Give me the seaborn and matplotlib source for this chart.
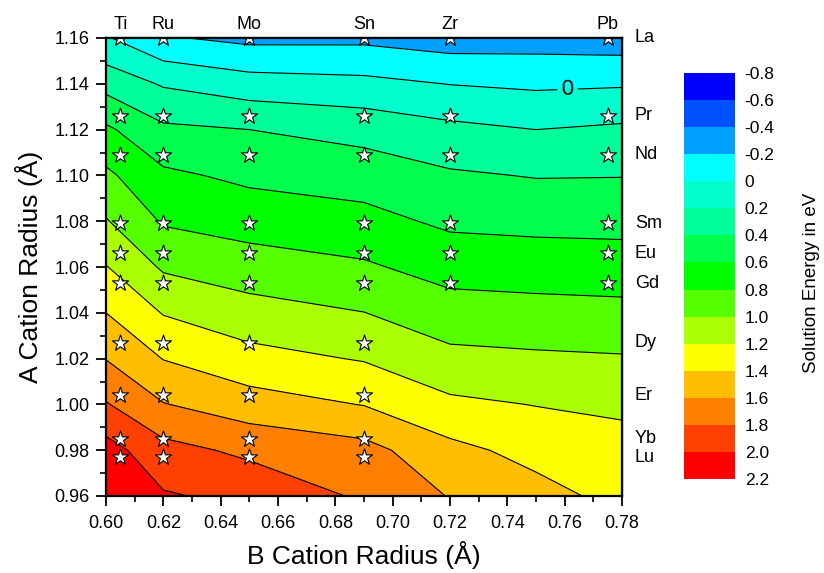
import numpy as np
import pandas as pd
import matplotlib
matplotlib.use("Agg")
import matplotlib.pyplot as plt
from matplotlib.ticker import MultipleLocator, NullFormatter
import seaborn as sns

# B-site and A-site cations with their ionic radii (Å)
b_elements = ["Ti", "Ru", "Mo", "Sn", "Zr", "Pb"]
b_radius = [0.605, 0.62, 0.65, 0.69, 0.72, 0.775]
a_elements = ["La", "Pr", "Nd", "Sm", "Eu", "Gd", "Dy", "Er", "Yb", "Lu"]
a_radius = [1.16, 1.126, 1.109, 1.079, 1.066, 1.053, 1.027, 1.004, 0.985, 0.977]
# number of B cations (in the order above) computed for each A cation
b_computed = [6, 6, 6, 6, 6, 6, 4, 4, 4, 4]

# solution energy surface (eV) on a B radius x A radius mesh
grid_b = [0.60, 0.62, 0.65, 0.69, 0.72, 0.75, 0.78]
grid_a = [0.96, 0.98, 1.00, 1.02, 1.04, 1.06, 1.08, 1.10, 1.12, 1.14, 1.16]
energy = [
    [2.18, 2.02, 1.95, 1.77, 1.59, 1.47, 1.34],
    [2.08, 1.867, 1.756, 1.668, 1.455, 1.336, 1.29],
    [1.815, 1.609, 1.488, 1.393, 1.241, 1.194, 1.153],
    [1.594, 1.394, 1.266, 1.186, 1.052, 1.031, 1.016],
    [1.40, 1.189, 1.079, 1.003, 0.887, 0.869, 0.856],
    [1.209, 0.973, 0.892, 0.827, 0.722, 0.705, 0.693],
    [1.014, 0.779, 0.716, 0.664, 0.562, 0.544, 0.538],
    [0.839, 0.638, 0.557, 0.508, 0.425, 0.39, 0.394],
    [0.635, 0.437, 0.40, 0.329, 0.25, 0.20, 0.234],
    [0.33, 0.18, 0.085, 0.054, -0.005, -0.034, -0.02],
    [0.02, -0.18, -0.25, -0.245, -0.30, -0.29, -0.31],
]

levels = [-0.8, -0.6, -0.4, -0.2, 0.0, 0.2, 0.4, 0.6, 0.8, 1.0,
          1.2, 1.4, 1.6, 1.8, 2.0, 2.2]
level_labels = ["-0.8", "-0.6", "-0.4", "-0.2", "0", "0.2", "0.4", "0.6",
                "0.8", "1.0", "1.2", "1.4", "1.6", "1.8", "2.0", "2.2"]
level_colors = ["#0000FF", "#0050FF", "#00A0FF", "#00FFFF", "#00FFCC",
                "#00FF99", "#00FF4C", "#00FF00", "#55FF00", "#AAFF00",
                "#FFFF00", "#FFBF00", "#FF8000", "#FF4000", "#FF0000"]

sns.set_theme(style="ticks")
plt.rcParams["font.family"] = ["Liberation Sans", "DejaVu Sans"]
plt.rcParams.update({
    "text.color": "black",
    "axes.labelcolor": "black",
    "xtick.color": "black",
    "ytick.color": "black",
    "axes.edgecolor": "black",
    "contour.negative_linestyle": "solid",
})

fig = plt.figure(figsize=(8.24, 5.73), dpi=100)
W, H = 824, 573
ax = fig.add_axes([106 / W, 77 / H, 516 / W, 458 / H])

Z = np.array(energy)
cf = ax.contourf(grid_b, grid_a, Z, levels=levels, colors=level_colors)
line_levels = [lv for lv in levels if lv != 0.0]
ax.contour(grid_b, grid_a, Z, levels=line_levels, colors="black",
           linewidths=0.8, linestyles="solid")
# the zero line carries a label
cs0 = ax.contour(grid_b, grid_a, Z, levels=[0.0], colors="black",
                 linewidths=0.8, linestyles="solid")
ax.clabel(cs0, manual=[(0.761, 1.137)], fmt=lambda v: "0", fontsize=16,
          inline=True, inline_spacing=4)

# computed compositions
rows = []
for a_name, a_r, n_b in zip(a_elements, a_radius, b_computed):
    for b_name, b_r in zip(b_elements[:n_b], b_radius[:n_b]):
        rows.append({"A": a_name, "B": b_name, "a_r": a_r, "b_r": b_r})
points = pd.DataFrame(rows)
sns.scatterplot(data=points, x="b_r", y="a_r", marker="*", s=150,
                color="white", edgecolor="black", linewidth=0.8,
                legend=False, ax=ax, zorder=5, clip_on=True)

ax.set_xlim(0.60, 0.78)
ax.set_ylim(0.96, 1.16)
ax.xaxis.set_major_locator(MultipleLocator(0.02))
ax.xaxis.set_minor_locator(MultipleLocator(0.01))
ax.yaxis.set_major_locator(MultipleLocator(0.02))
ax.yaxis.set_minor_locator(MultipleLocator(0.01))
ax.xaxis.set_major_formatter(plt.FuncFormatter(lambda v, p: f"{v:.2f}"))
ax.yaxis.set_major_formatter(plt.FuncFormatter(lambda v, p: f"{v:.2f}"))
ax.tick_params(which="major", direction="out", length=7, width=1.3,
               labelsize=13, color="black", labelcolor="black", pad=5)
ax.tick_params(which="minor", direction="out", length=4, width=1.2,
               color="black")
ax.tick_params(axis="x", pad=7)
for sp in ax.spines.values():
    sp.set_linewidth(1.6)
    sp.set_color("black")
    sp.set_zorder(10)

ax.set_xlabel("B Cation Radius (Å)", fontsize=19, labelpad=6)
ax.set_ylabel("A Cation Radius (Å)", fontsize=19, labelpad=8)

# inward ticks on the top and right edges
top = ax.secondary_xaxis("top")
top.xaxis.set_major_locator(MultipleLocator(0.02))
top.xaxis.set_minor_locator(MultipleLocator(0.01))
top.xaxis.set_major_formatter(NullFormatter())
top.tick_params(which="major", direction="in", length=7, width=1.3,
                color="black")
top.tick_params(which="minor", direction="in", length=4, width=1.2,
                color="black")
top.spines["top"].set_linewidth(1.6)
top.spines["top"].set_color("black")
right = ax.secondary_yaxis("right")
right.yaxis.set_major_locator(MultipleLocator(0.02))
right.yaxis.set_minor_locator(MultipleLocator(0.01))
right.yaxis.set_major_formatter(NullFormatter())
right.tick_params(which="major", direction="in", length=7, width=1.3,
                  color="black")
right.tick_params(which="minor", direction="in", length=4, width=1.2,
                  color="black")
right.spines["right"].set_linewidth(1.6)
right.spines["right"].set_color("black")

# element names along the top and right edges
xt = ax.get_xaxis_transform()
for name, r in zip(b_elements, b_radius):
    ax.text(r, 1.012, name, transform=xt, ha="center", va="bottom",
            fontsize=13, color="black")
yt = ax.get_yaxis_transform()
for name, r in zip(a_elements, a_radius):
    ax.text(1.025, r, name, transform=yt, ha="left", va="center",
            fontsize=13, color="black")

# colour scale
cax = fig.add_axes([684 / W, 94 / H, 51 / W, 406 / H])
cbar = fig.colorbar(cf, cax=cax, ticks=levels)
cbar.set_ticklabels(level_labels)
cbar.outline.set_visible(False)
cax.invert_yaxis()
cax.tick_params(length=0, pad=7, labelsize=12.5, labelcolor="black")
fig.text(812 / W, 1 - 283 / H, "Solution Energy in eV", rotation=90,
         ha="center", va="center", fontsize=13.5, color="black")

fig.savefig("out.png", dpi=100)
